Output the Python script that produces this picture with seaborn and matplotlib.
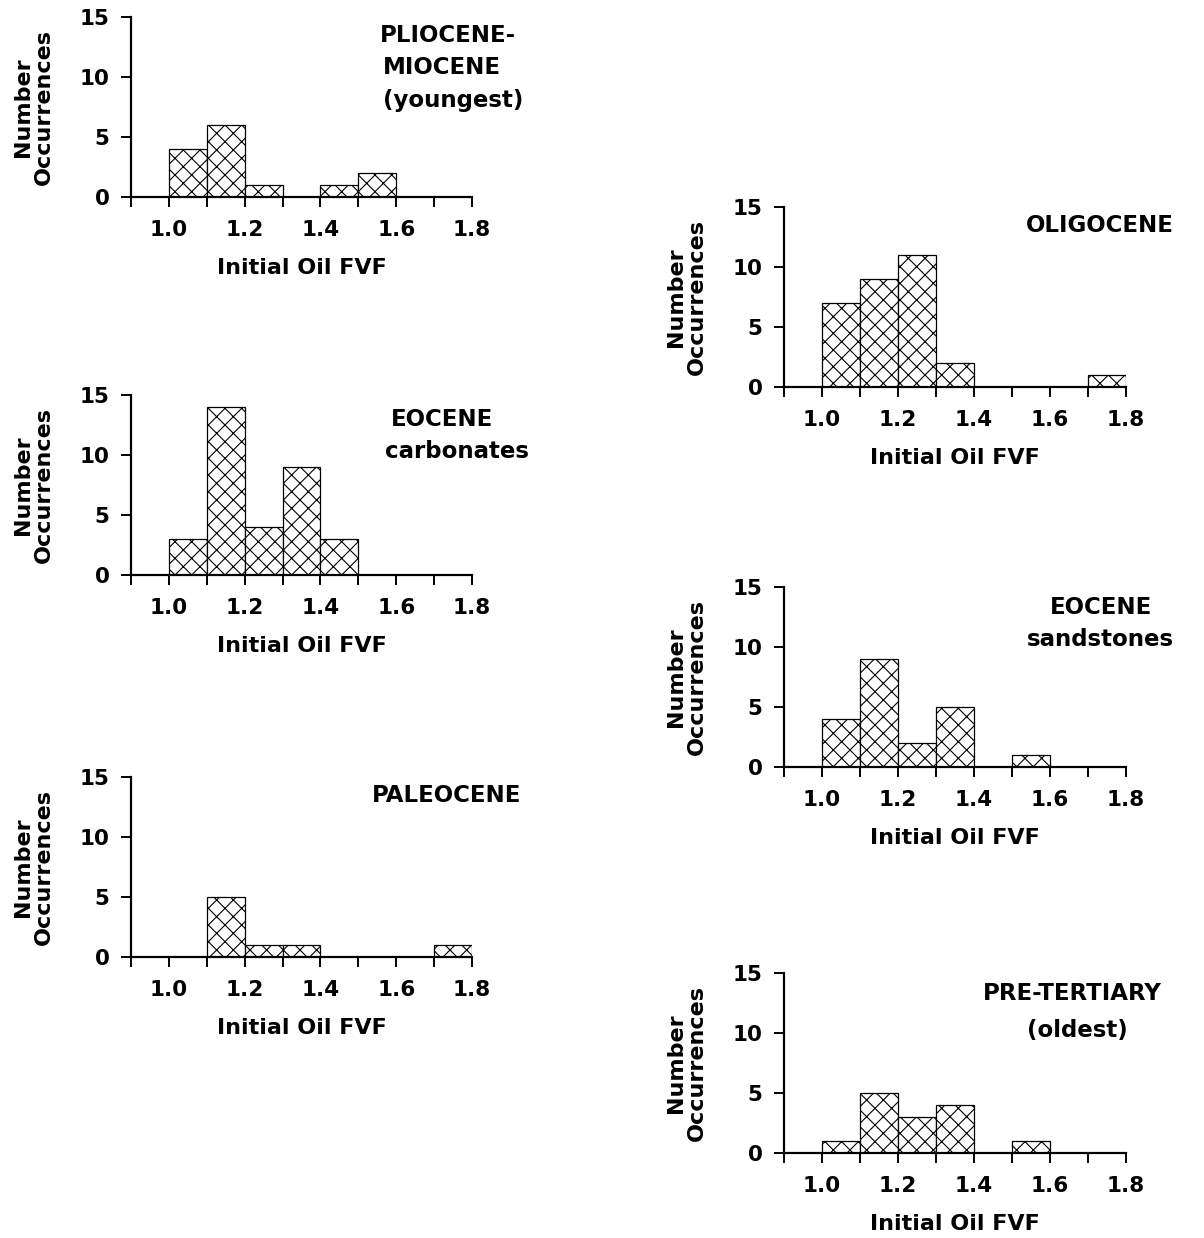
import numpy as np
import pandas as pd
import matplotlib
matplotlib.use("Agg")
import matplotlib.pyplot as plt
import seaborn as sns
from matplotlib.ticker import MultipleLocator, FixedLocator, FuncFormatter

# ==========================================
# DATA (counts per 0.1 FVF bin)
# ==========================================
BIN_LEFT = [1.0, 1.1, 1.2, 1.3, 1.4, 1.5, 1.6, 1.7]
BIN_EDGES = [1.0, 1.1, 1.2, 1.3, 1.4, 1.5, 1.6, 1.7, 1.8]

pliocene_miocene = [4, 6, 1, 0, 1, 2, 0, 0]
eocene_carbonates = [3, 14, 4, 9, 3, 0, 0, 0]
paleocene = [0, 5, 1, 1, 0, 0, 0, 1]
oligocene = [7, 9, 11, 2, 0, 0, 0, 1]
eocene_sandstones = [4, 9, 2, 5, 0, 1, 0, 0]
pre_tertiary = [1, 5, 3, 4, 0, 1, 0, 0]

X_TICKS = [1.0, 1.2, 1.4, 1.6, 1.8]
Y_TICKS = [0, 5, 10, 15]
X_LABEL = "Initial Oil FVF"
Y_LABEL = "Number\nOccurrences"

# ==========================================
# STYLE
# ==========================================
sns.set_style("ticks")
plt.rcParams['font.family'] = ['DejaVu Sans']
plt.rcParams['font.weight'] = 'bold'
plt.rcParams['hatch.linewidth'] = 0.8
for key in ['text.color', 'axes.labelcolor', 'xtick.color', 'ytick.color',
            'axes.edgecolor']:
    plt.rcParams[key] = 'black'

W, H = 1204, 1238
fig = plt.figure(figsize=(W / 100, H / 100), dpi=100)


def px(x, y):
    return x / W, 1 - y / H


# axes boxes in pixels: (left, top, right, bottom)
panels = [
    (pliocene_miocene, (131, 17, 472, 197),
     [("PLIOCENE-", 448, 36), ("MIOCENE", 442, 68), ("(youngest)", 453, 101)]),
    (eocene_carbonates, (131, 395, 472, 575),
     [("EOCENE", 442, 419), ("carbonates", 457, 451)]),
    (paleocene, (131, 777, 472, 957),
     [("PALEOCENE", 447, 795)]),
    (oligocene, (784, 207, 1126, 387),
     [("OLIGOCENE", 1100, 226)]),
    (eocene_sandstones, (784, 587, 1126, 767),
     [("EOCENE", 1101, 607), ("sandstones", 1100, 640)]),
    (pre_tertiary, (784, 973, 1126, 1153),
     [("PRE-TERTIARY", 1072, 993), ("(oldest)", 1077, 1031)]),
]

for counts, (l, t, r, b), title_lines in panels:
    ax = fig.add_axes([l / W, 1 - b / H, (r - l) / W, (b - t) / H])
    df = pd.DataFrame({'fvf': BIN_LEFT, 'n': counts})
    df['mid'] = df['fvf'] + 0.05
    sns.histplot(data=df, x='mid', weights='n', bins=BIN_EDGES, ax=ax,
                 color='white', edgecolor='black', linewidth=0.9,
                 hatch='xx', alpha=1)

    ax.set_xlim(0.9, 1.8)
    ax.set_ylim(0, 15)
    ax.xaxis.set_major_locator(FixedLocator(X_TICKS))
    ax.xaxis.set_minor_locator(MultipleLocator(0.1))
    ax.xaxis.set_major_formatter(FuncFormatter(lambda v, p: f"{v:.1f}"))
    ax.yaxis.set_major_locator(FixedLocator(Y_TICKS))
    ax.tick_params(axis='both', which='both', direction='out', length=7.5,
                   width=1.4, labelsize=15.5, pad=8)
    ax.tick_params(axis='x', which='major', pad=9)
    for side in ['left', 'bottom']:
        ax.spines[side].set_linewidth(1.6)
    sns.despine(ax=ax)

    ax.set_xlabel(X_LABEL, fontsize=16, fontweight='bold', labelpad=13)
    ax.set_ylabel(Y_LABEL, fontsize=16, fontweight='bold', linespacing=1.05)
    ax.yaxis.set_label_coords(-0.225, 0.5)

    for txt, x, y in title_lines:
        fig.text(*px(x, y), txt, ha='center', va='center', fontsize=16.5,
                 fontweight='bold')

plt.savefig('out.png', dpi=100)
plt.close()
